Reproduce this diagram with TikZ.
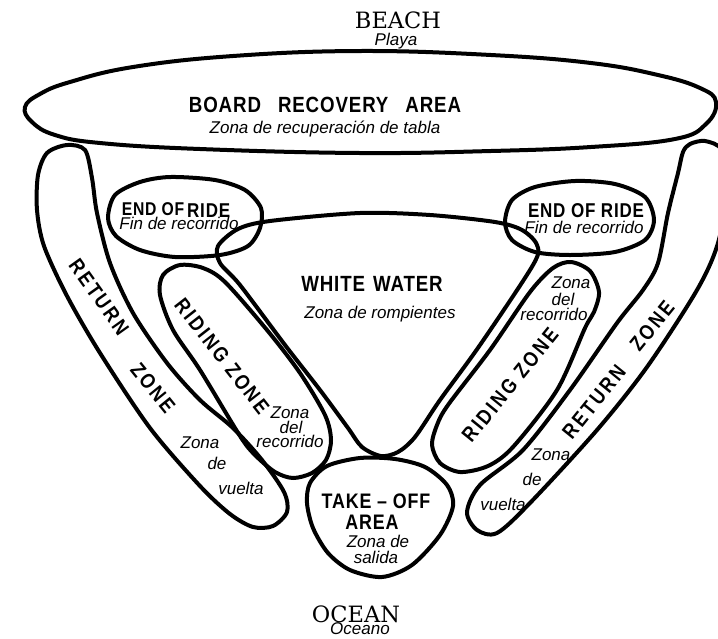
\documentclass[tikz,border=0pt]{standalone}
\usepackage{fontspec}
\setmainfont{Liberation Sans}
\newfontfamily\titlefont{DejaVu Serif}
\newfontfamily\capsfont[FakeStretch=0.85, LetterSpace=4]{Liberation Sans}
\newfontfamily\zonefont[FakeStretch=0.85, LetterSpace=12]{Liberation Sans}
\usepackage{tikz}

\begin{document}
\begin{tikzpicture}[
		x=1pt, y=-1pt,
		zone/.style={line width=4pt, line join=round},
		headtext/.style={font=\titlefont\fontsize{22.5}{24}\selectfont, anchor=base, inner sep=0pt},
		estext/.style={font=\itshape\fontsize{17}{17}\selectfont, anchor=base, inner sep=0pt},
		capstext/.style={font=\capsfont\bfseries\fontsize{22}{22}\selectfont, anchor=base, inner sep=0pt},
		ridetext/.style={font=\capsfont\bfseries\fontsize{20}{20}\selectfont, anchor=base, inner sep=0pt},
		takeofftext/.style={font=\capsfont\bfseries\fontsize{21}{21}\selectfont, anchor=base, inner sep=0pt},
		zonetext/.style={font=\zonefont\bfseries\fontsize{21}{21}\selectfont, inner sep=0pt}
		]
		\useasboundingbox (0,0) rectangle (718,638);
		\clip (0,0) rectangle (718,638);

		\draw[zone] plot[smooth cycle, tension=0.7] coordinates {(25,107) (40,94) (70,82) (133,67) (233,56) (360,51) (491,55) (591,63) (658,75) (700,88) (716,102) (706,124) (675,139) (591,147) (491,151) (360,153) (200,149) (100,143) (55,135) (32,122)};

		\draw[zone] plot[smooth cycle] coordinates {(67,145) (85,150) (92,178) (97,213) (110,263) (133,313) (167,363) (200,400) (233,428) (262,460) (284,492) (287,512) (273,526) (253,527) (230,514) (200,486) (150,428) (100,353) (67,296) (44,246) (37,210) (38,175) (47,153)};
		\draw[zone] plot[smooth cycle] coordinates {(683,152) (690,144) (705,141) (722,150) (728,185) (718,243) (697,290) (647,367) (597,430) (530,503) (497,533) (477,530) (467,512) (480,485) (523,450) (570,390) (617,323) (643,290) (658,263) (668,213) (678,173)};

		\draw[zone] plot[smooth cycle] coordinates {(108,218) (115,195) (140,182) (170,177) (215,180) (245,190) (261,208) (260,228) (248,246) (220,255) (175,257) (140,250) (116,236)};
		\draw[zone] plot[smooth cycle] coordinates {(505,222) (512,200) (535,187) (575,181) (615,184) (645,197) (654,220) (645,240) (615,252) (570,255) (535,252) (512,240)};

		\draw[zone] plot[smooth cycle] coordinates {(218,246) (238,229) (270,221) (360,213) (430,215) (495,222) (522,230) (537,245) (533,265) (480,345) (440,400) (415,437) (398,452) (381,456) (362,447) (348,428) (320,390) (285,345) (240,285) (220,263)};

		\draw[zone] plot[smooth cycle] coordinates {(163,275) (180,265) (203,268) (225,282) (267,330) (300,373) (325,415) (331,440) (326,460) (312,473) (293,478) (275,472) (255,455) (240,436) (200,370) (173,330) (160,295)};
		\draw[zone] plot[smooth cycle] coordinates {(553,268) (571,262) (590,271) (599,292) (594,312) (585,328) (557,390) (513,447) (488,466) (460,472) (440,463) (432,445) (437,425) (448,405) (490,350) (530,292)};

		\draw[zone] plot[smooth cycle] coordinates {(310,483) (327,466) (360,458) (395,459) (425,467) (447,485) (453,506) (440,535) (412,565) (382,577) (350,570) (328,553) (313,528) (307,503)};

		\node[headtext] (beach) at (398,28) {BEACH};
		\node[estext] (playa) at (396,45) {Playa};

		\node[capstext] (recovery) at (325,112) {BOARD\hspace{17pt}RECOVERY\hspace{17pt}AREA};
		\node[estext] (recoveryes) at (325,133) {Zona de recuperación de tabla};

		\node[ridetext] (endleft) at (176,215) {{\fontsize{18.5}{18.5}\selectfont END OF}\hspace{3pt}\raisebox{-2pt}{RIDE}};
		\node[estext] (endleftes) at (179,229) {Fin de recorrido};
		\node[ridetext] (endright) at (586,217) {END OF RIDE};
		\node[estext] (endrightes) at (584,233) {Fin de recorrido};

		\node[capstext] (white) at (372,291) {WHITE\hspace{8pt}WATER};
		\node[estext] (whitees) at (380,318) {Zona de rompientes};

		\node[zonetext, rotate=-54.5] (returnleft) at (99,297) {RETURN};
		\node[zonetext, rotate=-51] (returnleftb) at (153,388) {ZONE};
		\node[estext] (vueltaleft) at (200,448) {Zona};
		\node[estext] (vueltaleftb) at (217,469) {de};
		\node[estext] (vueltaleftc) at (241,494) {vuelta};

		\node[zonetext, rotate=-52] (ridingleft) at (222,356) {RIDING ZONE};
		\node[estext] (recorridoleft) at (290,418) {Zona};
		\node[estext] (recorridoleftb) at (291,433) {del};
		\node[estext] (recorridoleftc) at (290,447) {recorrido};

		\node[zonetext, rotate=51] (ridingright) at (510,385) {RIDING ZONE};
		\node[estext] (recorridoright) at (571,288) {Zona};
		\node[estext] (recorridorightb) at (563,305) {del};
		\node[estext] (recorridorightc) at (554,320) {recorrido};

		\node[zonetext, rotate=51] (returnright) at (594,402) {RETURN};
		\node[zonetext, rotate=51] (returnrightb) at (652,326) {ZONE};
		\node[estext] (vueltaright) at (551,460) {Zona};
		\node[estext] (vueltarightb) at (532,485) {de};
		\node[estext] (vueltarightc) at (503,510) {vuelta};

		\node[takeofftext] (takeoff) at (376,508) {TAKE – OFF};
		\node[takeofftext] (takeoffb) at (372,529) {AREA};
		\node[estext] (takeoffes) at (378,547) {Zona de};
		\node[estext] (takeoffesb) at (376,563) {salida};

		\node[headtext] (ocean) at (356,622) {OCEAN};
		\node[estext] (oceano) at (360,634) {Oceano};
	\end{tikzpicture}
\end{document}
